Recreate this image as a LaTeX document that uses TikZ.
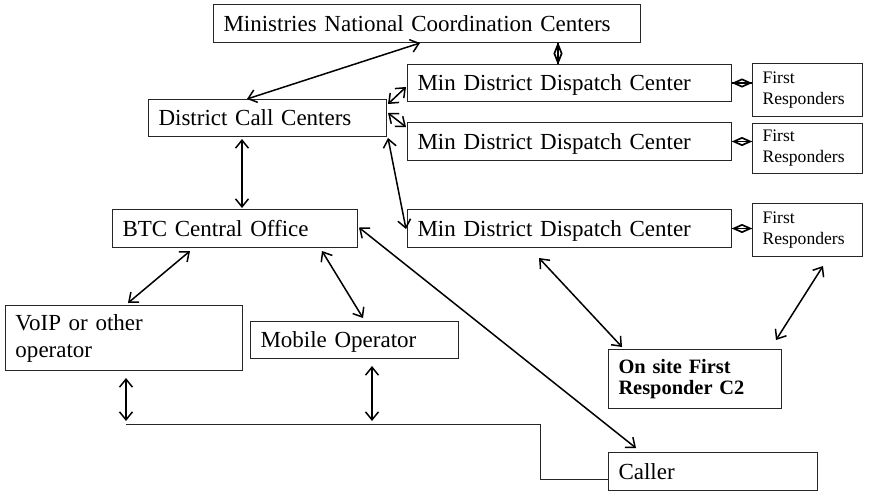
\documentclass[tikz,border=0pt]{standalone}
\usepackage{fontspec}
\setmainfont{Liberation Serif}
\usetikzlibrary{arrows.meta,shapes.geometric}
\begin{document}
\begin{tikzpicture}[x=1pt,y=-1pt,
  box/.style={draw=black!85, line width=1pt, anchor=north west, align=left,
    inner xsep=10pt, inner ysep=0pt, font=\fontsize{23}{27}\selectfont},
  onebox/.style={box, text depth=0pt},
  smallbox/.style={box, font=\fontsize{17.6}{21}\selectfont},
  boldbox/.style={box, font=\fontsize{20.4}{21}\selectfont\bfseries},
  link/.style={line width=1.5pt, {Straight Barb[length=8pt,width=13pt]}-{Straight Barb[length=8pt,width=13pt]}},
  tie/.style={line width=1.5pt},
  tiemark/.style={diamond, draw, line width=1.7pt, inner sep=0pt, minimum width=#1},
  bus/.style={draw=black!85, line width=0.9pt}]
\useasboundingbox (0,0) rectangle (872,491);

% boxes
\node[onebox, text width=407pt, minimum height=38pt] (min) at (213,4) {Ministries National Coordination Centers};
\node[onebox, text width=304pt, minimum height=37pt] (disp1) at (407,64) {Min District Dispatch Center};
\node[onebox, text width=304pt, minimum height=38pt] (disp2) at (407,122) {Min District Dispatch Center};
\node[onebox, text width=304pt, minimum height=38pt] (disp3) at (407,209) {Min District Dispatch Center};
\node[smallbox, text width=90pt, minimum height=53pt] (fr1) at (752,63) {First\\Responders};
\node[smallbox, text width=90pt, minimum height=50pt] (fr2) at (752,123) {First\\Responders};
\node[smallbox, text width=90pt, minimum height=53pt] (fr3) at (752,203) {First\\Responders};
\node[onebox, text width=218pt, minimum height=37pt] (dcc) at (148,99) {District Call Centers};
\node[onebox, text width=225pt, minimum height=38pt] (btc) at (112,209) {BTC Central Office};
\node[box, text width=217pt, minimum height=65pt] (voip) at (5,305) {VoIP or other\\operator};
\node[onebox, text width=188pt, minimum height=37pt] (mob) at (250,321) {Mobile Operator};
\node[boldbox, text width=153pt, minimum height=59pt] (onsite) at (608,349) {On site First\\Responder C2};
\node[onebox, text width=189pt, minimum height=38pt] (caller) at (608,452) {Caller};

% links between centres
\draw[link] ([shift={(99,0)}]dcc.north west) -- ([shift={(207,0)}]min.south west);
\draw[tie] ([shift={(345,0)}]min.south west) -- node[tiemark=8pt, minimum height=19pt] {} ([shift={(151,0)}]disp1.north west);
\draw[link] ([shift={(1,5)}]dcc.north east) -- ([shift={(-1,-15)}]disp1.south west);
\draw[link] ([shift={(1,14)}]dcc.north east) -- ([shift={(-1,5)}]disp2.north west);
\draw[link] ([shift={(1,1)}]dcc.south east) -- ([shift={(-1,20)}]disp3.north west);
\draw[tie] (disp1.east) -- node[tiemark=17pt, minimum height=8pt] {} (disp1.east -| fr1.west);
\draw[tie] (disp2.east) -- node[tiemark=17pt, minimum height=8pt] {} (disp2.east -| fr2.west);
\draw[tie] (disp3.east) -- node[tiemark=17pt, minimum height=8pt] {} (disp3.east -| fr3.west);
\draw[link] ([shift={(94,2)}]dcc.south west) -- ([shift={(94,-1)}]dcc.south west |- btc.north);

% operators
\draw[link] ([shift={(78,3)}]btc.south west) -- ([shift={(123,-2)}]voip.north west);
\draw[link] ([shift={(210,3)}]btc.south west) -- ([shift={(113,-3)}]mob.north west);
\draw[link] ([shift={(1,-1)}]btc.east) -- ([shift={(28,-4)}]caller.north west);

% on-site command
\draw[link] ([shift={(132,10)}]disp3.south west) -- ([shift={(14,-2)}]onsite.north west);
\draw[link] ([shift={(71,9)}]fr3.south west) -- ([shift={(-6,-9)}]onsite.north east);

% caller line
\coordinate (busL) at (126,424);
\coordinate (busR) at (540,424);
\coordinate (busM) at (372,424);
\draw[bus] (busL) -- (busR) |- ([shift={(0,-12)}]caller.south west);
\draw[link] ([shift={(121,7)}]voip.south west) -- ([shift={(0,-3)}]busL);
\draw[link] ([shift={(122,7)}]mob.south west) -- ([shift={(0,-3)}]busM);
\end{tikzpicture}
\end{document}
